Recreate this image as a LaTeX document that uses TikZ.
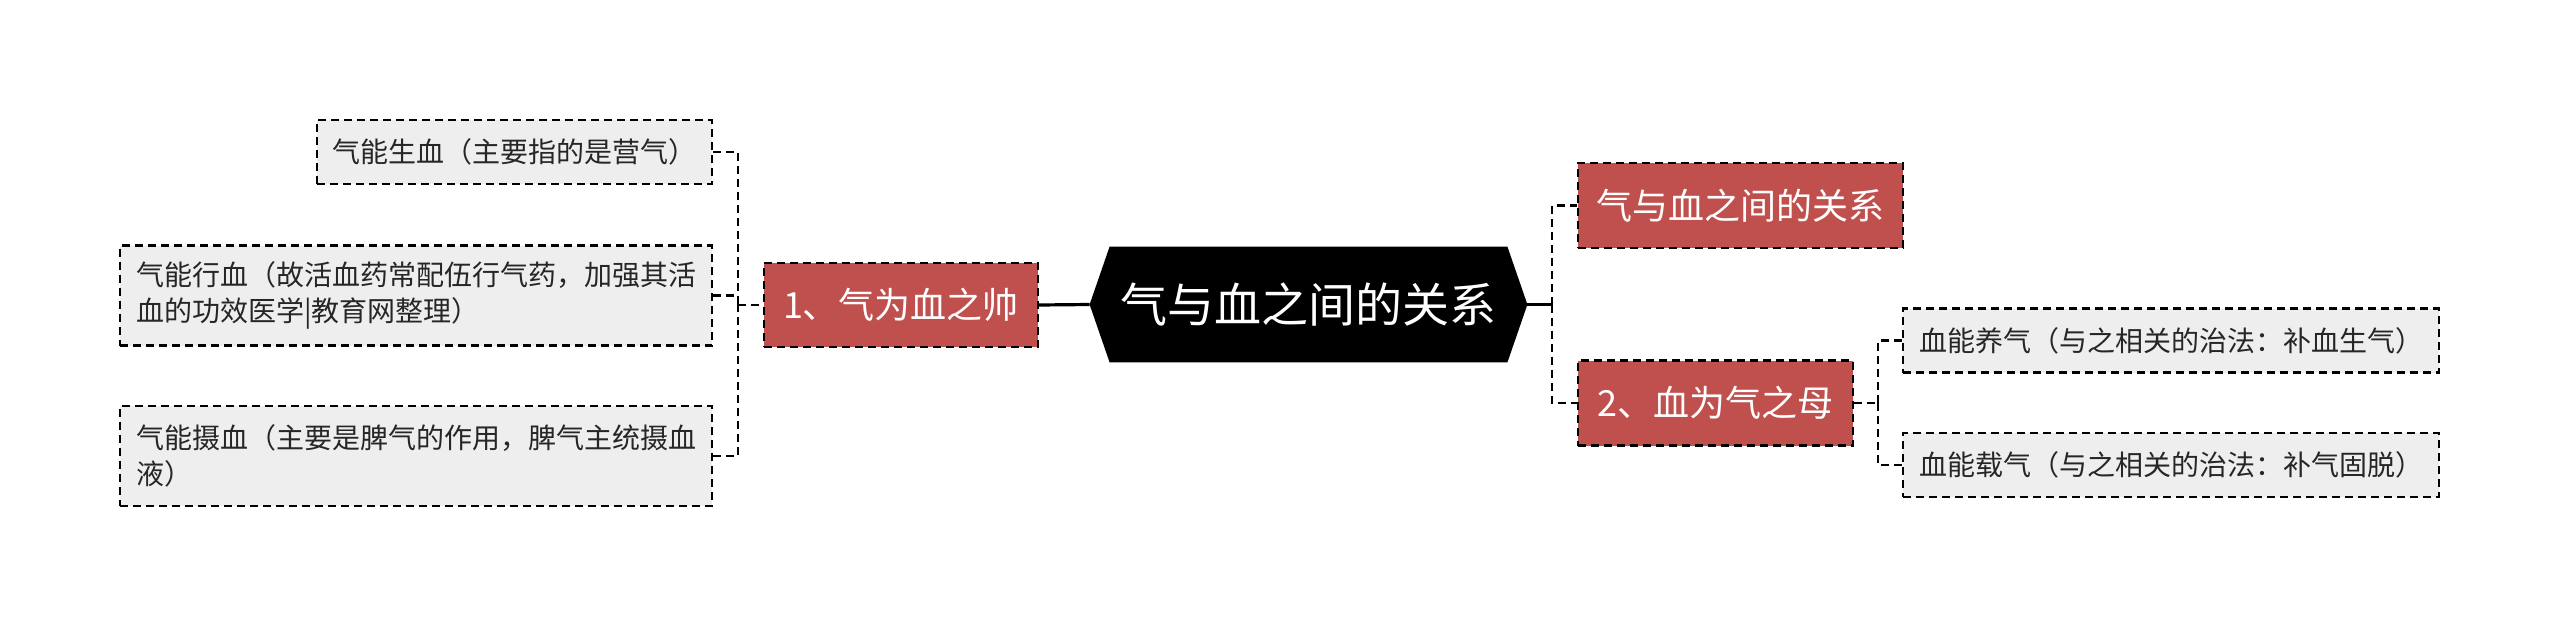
\documentclass[tikz,border=0pt]{standalone}
\usepackage{fontspec}
\newfontfamily\cjk{Noto Sans CJK SC}
\usetikzlibrary{backgrounds}
\definecolor{redfill}{HTML}{C0504D}
\definecolor{grayfill}{HTML}{EEEEEE}
\definecolor{txtgray}{HTML}{262626}
\begin{document}
\begin{tikzpicture}[x=0.5pt,y=-0.5pt,
  leaf/.style={draw=black, line width=1.2pt, dash pattern=on 4pt off 2.5pt, fill=grayfill,
    font=\cjk\fontsize{14}{18}\selectfont, text=txtgray, inner sep=0pt, align=left},
  redbox/.style={draw=black, line width=1.2pt, dash pattern=on 4pt off 2.5pt, fill=redfill,
    text=white, font=\cjk\fontsize{18}{22}\selectfont, inner sep=0pt},
  conn/.style={draw=black, line width=1.2pt, dash pattern=on 4pt off 2.5pt},
  solidconn/.style={draw=black, line width=1.6pt}]
\useasboundingbox (0,0) rectangle (2560,627);

% central topic
\node[minimum width=218.5pt, minimum height=57.5pt, inner sep=0pt, text=white,
  font=\cjk\fontsize{23.5}{28}\selectfont] (root) at (1308.5,304.5) {气与血之间的关系};
\begin{scope}[on background layer]
\fill[black] (root.west) -- ([xshift=10pt]root.north west) -- ([xshift=-10pt]root.north east)
  -- (root.east) -- ([xshift=-10pt]root.south east) -- ([xshift=10pt]root.south west) -- cycle;
\end{scope}

% left branch
\node[redbox, minimum width=137pt, minimum height=42pt] (n1) at (901,305) {1、气为血之帅};
\node[leaf, minimum width=197.5pt, minimum height=32pt] (b1) at (514.5,152) {气能生血（主要指的是营气）};
\node[leaf, minimum width=296pt, minimum height=50pt] (b2) at (416,295.5) {气能行血（故活血药常配伍行气药，加强其活\\血的功效医学|教育网整理）};
\node[leaf, minimum width=296pt, minimum height=50pt] (b3) at (416,456) {气能摄血（主要是脾气的作用，脾气主统摄血\\液）};

% right branch
\node[redbox, minimum width=162.5pt, minimum height=42.5pt] (t1) at (1740.5,205.5) {气与血之间的关系};
\node[redbox, minimum width=137.5pt, minimum height=42.5pt] (n2) at (1715.5,403) {2、血为气之母};
\node[leaf, minimum width=268pt, minimum height=32pt] (bA) at (2171,340.5) {血能养气（与之相关的治法：补血生气）};
\node[leaf, minimum width=268pt, minimum height=32pt] (bB) at (2171,465) {血能载气（与之相关的治法：补气固脱）};

% connectors
\coordinate (bL) at (738,305);
\coordinate (bR) at (1552,304.5);
\coordinate (bR2) at (1878,403);

\draw[solidconn] (n1.east) -- (root.west);
\draw[conn] (bL) -- (n1.west);
\draw[conn] (b1.east) -| (bL);
\draw[conn] (b2.east) -| (bL);
\draw[conn] (b3.east) -| (bL);

\draw[solidconn] (root.east) -- (bR);
\draw[conn] (bR) |- (t1.west);
\draw[conn] (bR) |- (n2.west);

\draw[conn] (n2.east) -- (bR2);
\draw[conn] (bR2) |- (bA.west);
\draw[conn] (bR2) |- (bB.west);
\end{tikzpicture}
\end{document}
